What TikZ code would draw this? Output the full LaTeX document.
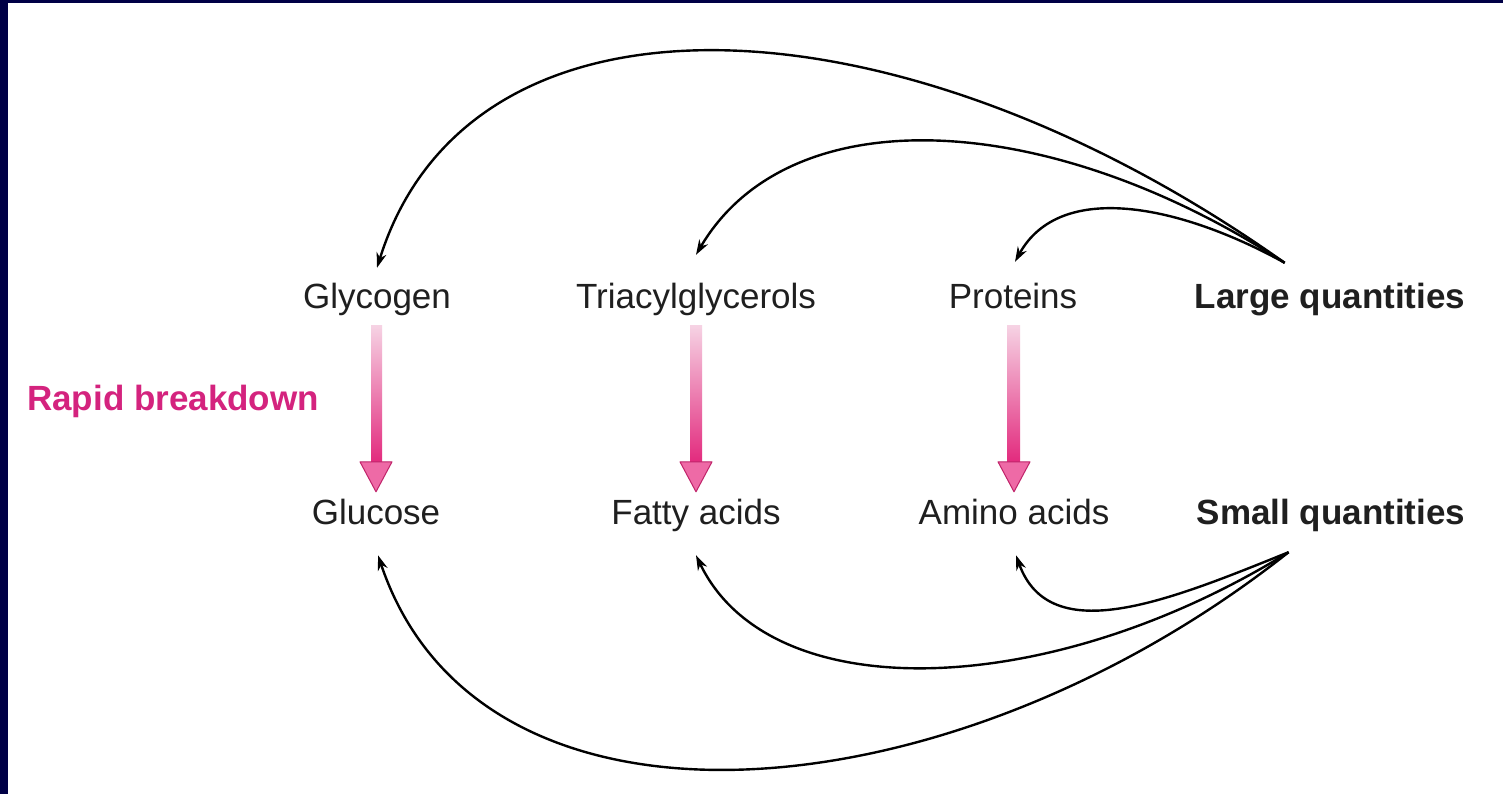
\documentclass[tikz,border=0pt]{standalone}
\usepackage{fontspec}
\setmainfont{Liberation Sans}
\usetikzlibrary{arrows.meta,calc}
\definecolor{navy}{HTML}{000046}
\definecolor{rapid}{HTML}{D4237E}
\definecolor{pinktop}{HTML}{F6D3E4}
\definecolor{pinkbot}{HTML}{E2287C}
\definecolor{pinkhead}{HTML}{EE6AA6}
\begin{document}
\begin{tikzpicture}[x=1pt,y=-1pt,
  lbl/.style={font=\fontsize{35}{40}\selectfont, text=black!88, inner sep=0pt, text height=26pt, text depth=7pt, anchor=base},
  blbl/.style={lbl, font=\fontsize{35}{40}\selectfont\bfseries},
  conn/.style={line width=2.4pt, -{Stealth[length=15pt,width=10pt]}},
  breakshaft/.style={top color=pinktop, bottom color=pinkbot},
  breakhead/.style={fill=pinkhead, draw=pinkbot!85!black, line width=1pt, line join=round}
]
\fill[white] (0,0) rectangle (1503,794);
\fill[navy] (0,0) rectangle (8,794);
\fill[navy] (0,0) rectangle (1503,3);
\useasboundingbox (0,0) rectangle (1503,794);

\node[lbl] (gly) at (377,308) {Glycogen};
\node[lbl] (tri) at (696,308) {Triacylglycerols};
\node[lbl] (pro) at (1013,308) {Proteins};
\node[blbl] (lq) at (1330,308) {Large quantities};
\node[lbl] (glu) at (376,524) {Glucose};
\node[lbl] (fa) at (696,524) {Fatty acids};
\node[lbl] (aa) at (1014,524) {Amino acids};
\node[blbl] (sq) at (1331,524) {Small quantities};
\node[blbl, text=rapid, anchor=base west] (rb) at (27,410) {Rapid breakdown};

\foreach \a/\b in {gly/glu, tri/fa, pro/aa} {
  \shade[breakshaft] ($(\a.south)+(-6,10)$) rectangle ($(\b.north)+(6,-34)$);
  \path[breakhead] ($(\b.north)+(-16,-36)$) -- ($(\b.north)+(16,-36)$) -- ($(\b.north)+(0,-6)$) -- cycle;
}

\coordinate (lqs) at ($(lq.north west)+(90,-19)$);
\coordinate (sqs) at ($(sq.south west)+(92,21)$);

\draw[conn] (lqs) .. controls (900,-10) and (470,-30) .. ($(gly.north)+(0,-14)$);
\draw[conn] (lqs) .. controls (1050,110) and (790,95) .. ($(tri.north)+(0,-27)$);
\draw[conn] (lqs) .. controls (1180,205) and (1060,180) .. ($(pro.north)+(2,-20)$);
\draw[conn] (sqs) .. controls (1170,600) and (1050,650) .. ($(aa.south)+(2,24)$);
\draw[conn] (sqs) .. controls (1050,700) and (770,710) .. ($(fa.south)+(0,24)$);
\draw[conn] (sqs) .. controls (950,820) and (480,860) .. ($(glu.south)+(2,24)$);
\end{tikzpicture}
\end{document}
